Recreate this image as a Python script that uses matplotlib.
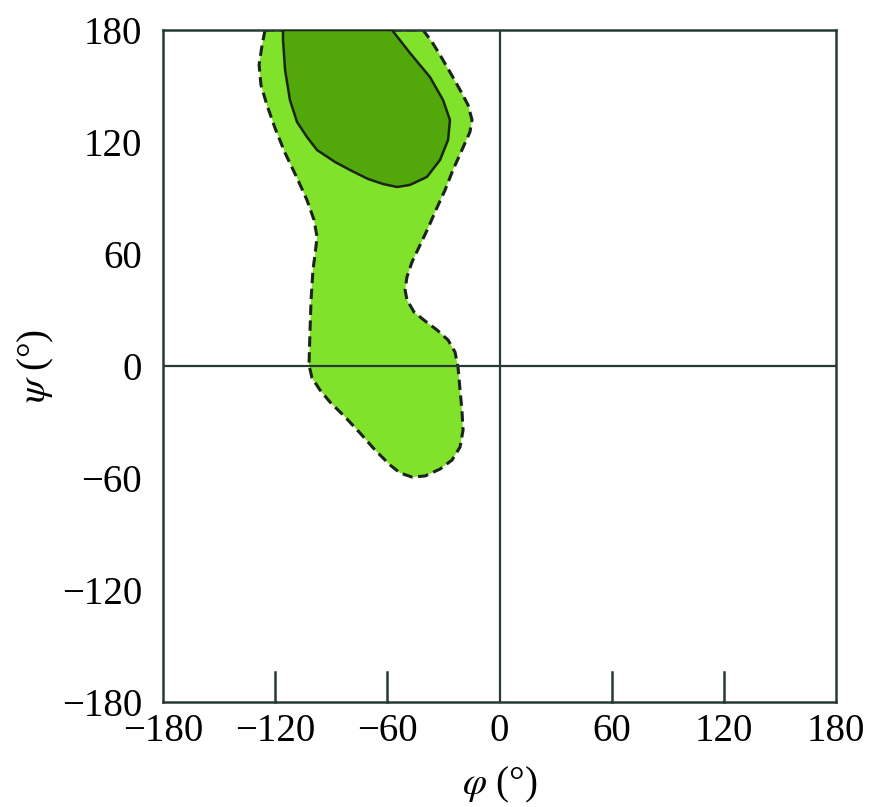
import numpy as np
import matplotlib
matplotlib.use("Agg")
import matplotlib.pyplot as plt
from matplotlib.patches import Polygon

plt.rcParams['font.family'] = ['Liberation Serif', 'DejaVu Serif']
plt.rcParams['mathtext.fontset'] = 'stix'

# allowed region (light green, dashed outline): phi, psi in degrees
allowed_phi = [-125.4, -127.0, -128.6, -127.6, -124.4, -120.1, -114.7, -108.3, -103.0,
               -99.2, -97.6, -98.7, -99.8, -100.8, -101.4, -101.9, -100.3, -96.0,
               -90.7, -82.6, -74.6, -66.6, -58.6, -53.2, -46.8, -39.8, -31.8,
               -25.4, -21.1, -19.5, -20.1, -21.1, -22.2, -23.8, -27.5, -33.4,
               -39.8, -45.7, -49.5, -50.5, -49.5, -46.8, -42.5, -38.2, -34.0,
               -29.1, -24.9, -20.1, -15.8, -14.7, -16.8, -21.1, -26.5, -31.8,
               -36.1, -40.9]
allowed_psi = [180.0, 172.0, 161.3, 150.5, 139.8, 127.5, 114.1, 100.7, 88.9,
               78.2, 69.1, 59.5, 51.4, 35.4, 17.7, 0.5, -6.4, -12.9,
               -19.3, -27.3, -35.9, -45.0, -53.0, -57.3, -59.5, -58.9, -55.2,
               -50.4, -43.4, -34.3, -23.6, -12.9, -0.5, 7.5, 13.9, 19.3,
               24.1, 28.9, 35.4, 40.7, 47.7, 55.7, 64.8, 73.9, 83.6,
               94.3, 105.0, 115.7, 125.4, 131.8, 139.8, 147.9, 157.5, 166.6,
               173.6, 180.0]

# favoured region (dark green, solid outline)
core_phi = [-115.8, -115.8, -114.7, -112.1, -108.3, -103.0, -97.6, -88.0, -80.0,
            -70.3, -62.3, -54.8, -47.9, -38.8, -31.8, -27.5, -26.5, -30.2,
            -37.2, -47.9, -57.5]
core_psi = [180.0, 174.6, 158.6, 142.5, 130.7, 122.7, 115.7, 109.3, 105.0,
            100.2, 97.5, 95.9, 97.0, 101.3, 110.4, 121.1, 131.8, 142.5,
            154.8, 167.7, 180.0]

ticks = [-180, -120, -60, 0, 60, 120, 180]
inner_ticks = [-120, -60, 60, 120]

axis_col = '#263a36'
edge_col = '#1a2418'

fig = plt.figure(figsize=(8.75, 8.07), dpi=100)
ax = fig.add_axes([163 / 875, 1 - 702 / 807, 673 / 875, 672 / 807])

light = Polygon(np.column_stack([allowed_phi, allowed_psi]), closed=True,
                facecolor='#80e22b', edgecolor='none', zorder=1)
ax.add_patch(light)
ax.plot(allowed_phi + allowed_phi[:1], allowed_psi + allowed_psi[:1],
        color=edge_col, lw=2.2, ls=(0, (3.4, 1.8)), zorder=2,
        solid_joinstyle='round', dash_joinstyle='round', dash_capstyle='butt')

dark = Polygon(np.column_stack([core_phi, core_psi]), closed=True,
               facecolor='#52a80a', edgecolor=edge_col, lw=1.8, zorder=3,
               joinstyle='round')
ax.add_patch(dark)

ax.axhline(0, color=axis_col, lw=1.6, zorder=4)
ax.axvline(0, color=axis_col, lw=1.6, zorder=4)

ax.set_xlim(-180, 180)
ax.set_ylim(-180, 180)
ax.set_xticks(ticks)
ax.set_yticks(ticks)
ax.set_xticklabels([str(t).replace('-', '\u2212') for t in ticks])
ax.set_yticklabels([str(t).replace('-', '\u2212') for t in ticks])
ax.tick_params(axis='x', length=0, pad=8, labelsize=28)
ax.tick_params(axis='y', length=0, pad=15, labelsize=28)

# short inward ticks on the bottom axis
for t in inner_ticks:
    ax.plot([t, t], [-180, -164], color=axis_col, lw=1.8, zorder=4, clip_on=False)

for s in ax.spines.values():
    s.set_color(axis_col)
    s.set_linewidth(1.8)

ax.set_xlabel(r'$\varphi$ (°)', fontsize=28, va='center')
ax.set_ylabel(r'$\psi$ (°)', fontsize=28, va='center')
ax.xaxis.set_label_coords(0.5, (702 - 785) / 672)
ax.yaxis.set_label_coords((36 - 163) / 673, 0.5)

fig.savefig('out.png', dpi=100)
